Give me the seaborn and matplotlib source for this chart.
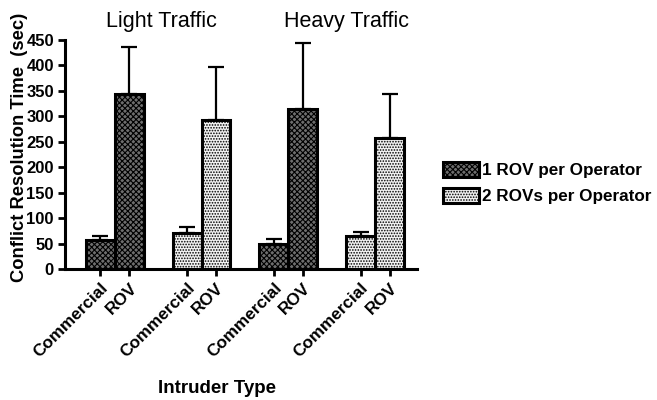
import matplotlib
matplotlib.use("Agg")
import matplotlib.pyplot as plt
import seaborn as sns
import pandas as pd
from matplotlib.patches import Patch

# ---- data ----
traffic = ["Light Traffic", "Light Traffic", "Light Traffic", "Light Traffic",
           "Heavy Traffic", "Heavy Traffic", "Heavy Traffic", "Heavy Traffic"]
config = ["1 ROV per Operator", "1 ROV per Operator", "2 ROVs per Operator", "2 ROVs per Operator",
          "1 ROV per Operator", "1 ROV per Operator", "2 ROVs per Operator", "2 ROVs per Operator"]
intruder = ["Commercial", "ROV", "Commercial", "ROV", "Commercial", "ROV", "Commercial", "ROV"]
position = [0, 1, 3, 4, 6, 7, 9, 10]
mean_time = [57, 343, 71, 293, 49, 315, 65, 257]
err_upper = [8, 94, 12, 103, 9, 130, 7, 86]
yticks = [0, 50, 100, 150, 200, 250, 300, 350, 400, 450]
groups = ["Light Traffic", "Heavy Traffic"]

df = pd.DataFrame({"traffic": traffic, "config": config, "intruder": intruder,
                   "pos": position, "time": mean_time, "err": err_upper})

plt.rcParams['font.family'] = ['Liberation Sans', 'DejaVu Sans']
plt.rcParams['hatch.linewidth'] = 0.8

fig = plt.figure(figsize=(6.57, 4.0), dpi=100)
ax = fig.add_axes([65/657, (400-269)/400, (417-65)/657, (269-40)/400])

palette = {"1 ROV per Operator": "#6e6e6e", "2 ROVs per Operator": "#f2f2f2"}
sns.barplot(data=df, x="pos", y="time", hue="config", native_scale=True, dodge=False,
            width=1.0, palette=palette, edgecolor="black", linewidth=2.2,
            errorbar=None, legend=False, ax=ax, zorder=3)

hatches = {"1 ROV per Operator": "xxxxxx", "2 ROVs per Operator": "......"}
levels = list(dict.fromkeys(config))
for cont, lvl in zip(ax.containers, levels):
    for bar in cont:
        bar.set_hatch(hatches[lvl])

ax.errorbar(df["pos"], df["time"], yerr=[[0]*len(df), df["err"]], fmt="none",
            ecolor="black", elinewidth=1.6, capsize=6, capthick=1.6, zorder=2)

ax.set_xlim(-1.22, 10.95)
ax.set_ylim(0, 450)
ax.set_yticks(yticks)
ax.set_yticklabels([str(t) for t in yticks], fontsize=12, fontweight="bold")
ax.set_xticks(position)
ax.set_xticklabels(intruder, rotation=45, ha="right", rotation_mode="anchor",
                   fontsize=12.3, fontweight="bold")
ax.tick_params(axis="both", direction="out", length=5, width=2, pad=3)
for s in ["top", "right"]:
    ax.spines[s].set_visible(False)
for s in ["left", "bottom"]:
    ax.spines[s].set_linewidth(2.2)
ax.set_xlabel("Intruder Type", fontsize=13.5, fontweight="bold")
ax.set_ylabel("Conflict Resolution Time  (sec)", fontsize=13.2, fontweight="bold")
ax.xaxis.set_label_coords((217-65)/352, -111/229)
ax.yaxis.set_label_coords((28-65)/352, (269-147)/229)

fig.text(161/657, 1-21/400, groups[0], ha="center", va="center", fontsize=15.5)
fig.text(346/657, 1-21/400, groups[1], ha="center", va="center", fontsize=15.5)

handles = [Patch(facecolor=palette[l], edgecolor="black", linewidth=2.2, hatch=hatches[l]) for l in levels]
leg = fig.legend(handles, levels, loc="center left", bbox_to_anchor=(443/657, 1-183/400),
                 frameon=False, fontsize=12.3, handlelength=2.1, handleheight=1.0,
                 handletextpad=0.2, labelspacing=0.55, borderaxespad=0, borderpad=0)
for t in leg.get_texts():
    t.set_fontweight("bold")

fig.savefig("out.png", dpi=100)
